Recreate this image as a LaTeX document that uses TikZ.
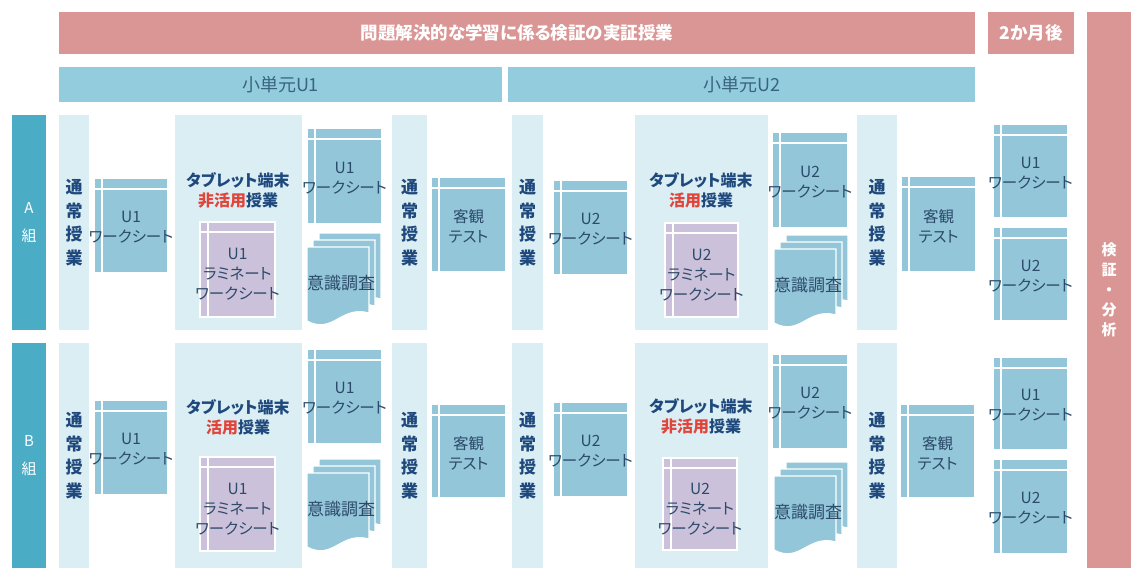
\documentclass[tikz,border=0pt]{standalone}
\usepackage{fontspec}
\setmainfont{Noto Sans CJK JP}[RawFeature=+palt]
\definecolor{pinkc}{HTML}{D99694}
\definecolor{grpc}{HTML}{4BACC6}
\definecolor{unitc}{HTML}{93CDDD}
\definecolor{panelc}{HTML}{DAEEF3}
\definecolor{wsc}{HTML}{92C6D8}
\definecolor{lamc}{HTML}{CCC1DA}
\definecolor{navyc}{HTML}{1F497D}
\definecolor{redc}{HTML}{E0443A}
\definecolor{textc}{HTML}{2C4A6A}
\definecolor{unittext}{HTML}{3A6380}
\tikzset{
  base/.style={inner sep=0pt,outer sep=0pt},
  banner/.style={base,fill=pinkc},
  grp/.style={base,fill=grpc},
  unit/.style={base,fill=unitc},
  panel/.style={base,fill=panelc},
  ws/.style={base,fill=wsc},
  lam/.style={base,fill=lamc,draw=white,line width=2pt},
  wline/.style={white,line width=2pt},
  sheet/.style={fill=wsc,draw=white,line width=1.2pt},
  bantxt/.style={text=white,font=\bfseries\fontsize{17.5}{20}\selectfont},
  grptxt/.style={text=white,align=center,font=\fontsize{15}{28}\selectfont},
  unittxt/.style={text=unittext,font=\fontsize{18}{20}\selectfont},
  vtxt/.style={text=navyc,align=center,font=\bfseries\fontsize{17}{23.5}\selectfont},
  tabtxt/.style={text=navyc,align=center,font=\bfseries\fontsize{16}{20}\selectfont},
  wstxt/.style={text=textc,align=center,font=\fontsize{15.5}{20}\selectfont},
  doctxt/.style={text=textc,font=\fontsize{17}{20}\selectfont},
}
\newcommand\bx[6]{\node[#1,anchor=north west,minimum width={(#4)-(#2)},minimum height={(#5)-(#3)}] (#6) at (#2,#3) {};}
\newcommand\wsbox[6]{\bx{ws}{#1}{#2}{#3}{#4}{#5}
  \draw[wline] ([yshift=-10pt]#5.north west) -- ([yshift=-10pt]#5.north east);
  \draw[wline] ([xshift=7pt]#5.north west) -- ([xshift=7pt]#5.south west);
  \node[wstxt] at ([yshift=-2pt]#5.center) {#6};}
\newcommand\lambox[6]{\bx{lam}{#1}{#2}{#3}{#4}{#5}
  \draw[wline] ([yshift=-10pt]#5.north west) -- ([yshift=-10pt]#5.north east);
  \draw[wline] ([xshift=8pt]#5.north west) -- ([xshift=8pt]#5.south west);
  \node[wstxt] at ([yshift=-5pt]#5.center) {#6};}
\newcommand\docpath[2]{(#1,#2) -- (#1+62,#2) -- (#1+62,#2+66) .. controls (#1+34,#2+58) and (#1+26,#2+88) .. (#1,#2+74) -- cycle}
\newcommand\docstack[3]{%
  \draw[sheet] \docpath{#1+12}{#2-14};
  \draw[sheet] \docpath{#1+6}{#2-7};
  \draw[sheet] \docpath{#1}{#2};
  \node[doctxt] (#3) at (#1+34,#2+36) {意識調査};}
\begin{document}
\begin{tikzpicture}[x=1pt,y=-1pt]
\useasboundingbox[fill=white] (0,0) rectangle (1131,568);
% headers
\bx{banner}{59}{12}{975}{54}{top}
\node[bantxt] at (top) {問題解決的な学習に係る検証の実証授業};
\bx{banner}{988}{12}{1074}{54}{later}
\node[bantxt] at (later) {2か月後};
\bx{banner}{1087}{12}{1131}{568}{ana}
\node[text=white,align=center,font=\bfseries\fontsize{15}{20}\selectfont] at (ana) {検\\証\\・\\分\\析};
\bx{unit}{59}{67}{502}{102}{u1}
\node[unittxt] at (u1) {小単元U1};
\bx{unit}{508}{67}{975}{102}{u2}
\node[unittxt] at (u2) {小単元U2};
% group labels
\bx{grp}{12}{115}{46}{330}{gA}
\node[grptxt] at (gA) {A\\組};
\bx{grp}{12}{343}{46}{568}{gB}
\node[grptxt] at (gB) {B\\組};
% ===== row A =====
\bx{panel}{59}{115}{89}{330}{nA1}
\node[vtxt] at (nA1) {通\\常\\授\\業};
\bx{panel}{392}{115}{427}{330}{nA2}
\node[vtxt] at (nA2) {通\\常\\授\\業};
\bx{panel}{512}{115}{543}{330}{nA3}
\node[vtxt] at (nA3) {通\\常\\授\\業};
\bx{panel}{857}{115}{897}{330}{nA4}
\node[vtxt] at (nA4) {通\\常\\授\\業};
\bx{panel}{175}{115}{302}{330}{tA1}
\node[tabtxt] at (238,190) {タブレット端末\\{\color{redc}非活用}授業};
\bx{panel}{635}{115}{768}{330}{tA2}
\node[tabtxt] at (701,190) {タブレット端末\\{\color{redc}活用}授業};
\wsbox{95}{179}{167}{272}{wA1}{U1\\ワークシート}
\wsbox{308}{129}{381}{223}{wA2}{U1\\ワークシート}
\wsbox{432}{178}{505}{271}{kA1}{客観\\テスト}
\wsbox{554}{181}{627}{274}{wA3}{U2\\ワークシート}
\wsbox{773}{133}{847}{227}{wA4}{U2\\ワークシート}
\wsbox{902}{177}{975}{271}{kA2}{客観\\テスト}
\wsbox{994}{125}{1067}{217}{lA1}{U1\\ワークシート}
\wsbox{994}{228}{1067}{320}{lA2}{U2\\ワークシート}
\lambox{200}{222}{275}{317}{mA1}{U1\\ラミネート\\ワークシート}
\lambox{665}{223}{738}{317}{mA2}{U2\\ラミネート\\ワークシート}
\docstack{307}{247}{dA1}
\docstack{774}{249}{dA2}
% ===== row B =====
\bx{panel}{59}{343}{89}{568}{nB1}
\node[vtxt] at (nB1) {通\\常\\授\\業};
\bx{panel}{392}{343}{427}{568}{nB2}
\node[vtxt] at (nB2) {通\\常\\授\\業};
\bx{panel}{512}{343}{543}{568}{nB3}
\node[vtxt] at (nB3) {通\\常\\授\\業};
\bx{panel}{857}{343}{897}{568}{nB4}
\node[vtxt] at (nB4) {通\\常\\授\\業};
\bx{panel}{175}{343}{302}{568}{tB1}
\node[tabtxt] at (238,417) {タブレット端末\\{\color{redc}活用}授業};
\bx{panel}{635}{343}{768}{568}{tB2}
\node[tabtxt] at (701,416) {タブレット端末\\{\color{redc}非活用}授業};
\wsbox{95}{401}{167}{494}{wB1}{U1\\ワークシート}
\wsbox{308}{350}{381}{443}{wB2}{U1\\ワークシート}
\wsbox{432}{405}{505}{497}{kB1}{客観\\テスト}
\wsbox{554}{403}{627}{496}{wB3}{U2\\ワークシート}
\wsbox{773}{355}{847}{448}{wB4}{U2\\ワークシート}
\wsbox{901}{405}{974}{497}{kB2}{客観\\テスト}
\wsbox{994}{358}{1067}{449}{lB1}{U1\\ワークシート}
\wsbox{994}{460}{1067}{553}{lB2}{U2\\ワークシート}
\lambox{200}{457}{275}{551}{mB1}{U1\\ラミネート\\ワークシート}
\lambox{663}{458}{737}{550}{mB2}{U2\\ラミネート\\ワークシート}
\docstack{307}{473}{dB1}
\docstack{774}{476}{dB2}
\end{tikzpicture}
\end{document}
